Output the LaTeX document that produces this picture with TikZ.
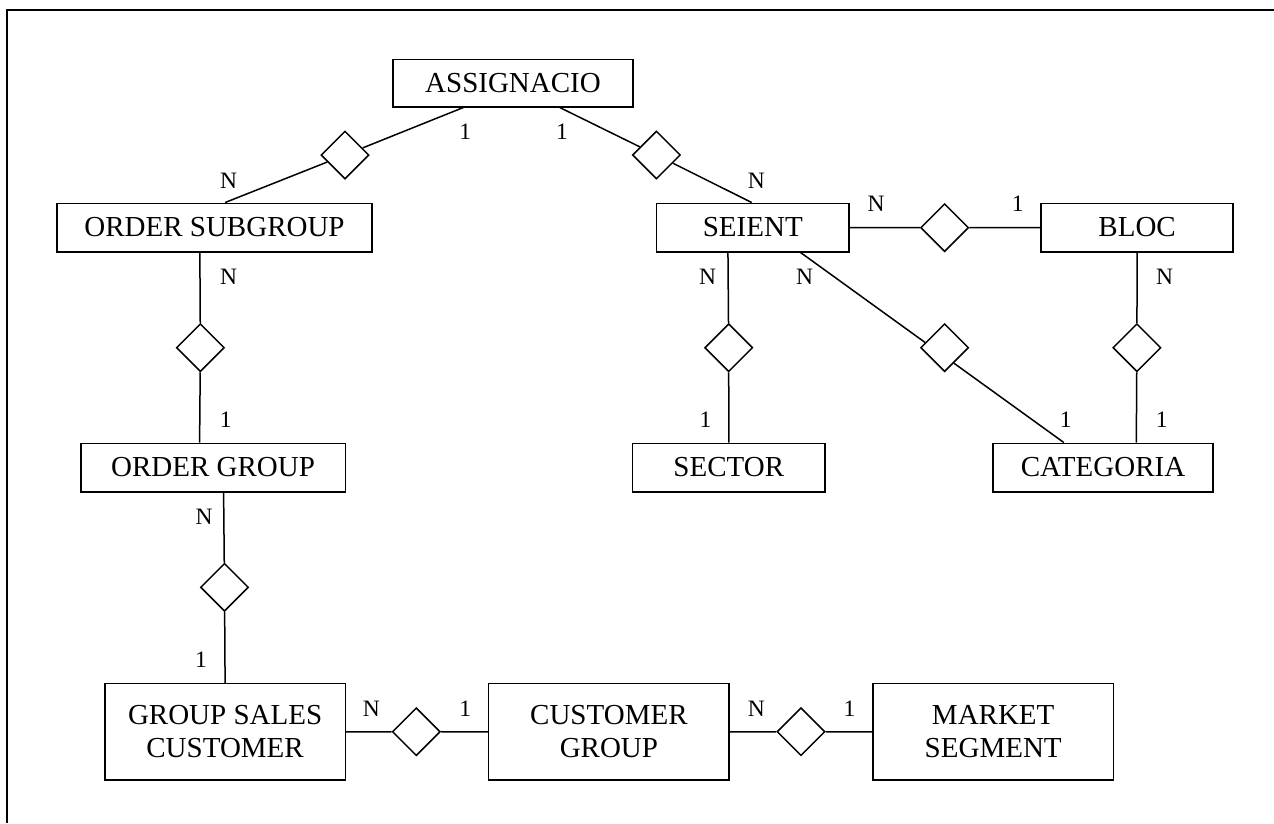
\documentclass[tikz,border=0pt]{standalone}
\usepackage{fontspec}
\setmainfont{Liberation Serif}
\usetikzlibrary{shapes.geometric}

\tikzset{
  entity/.style={draw, line width=1.6pt, rectangle, inner sep=0pt, align=center,
                 font=\fontsize{29}{33.3}\selectfont},
  rel/.style={draw, line width=1.5pt, diamond, fill=white, inner sep=0pt,
              minimum width=48pt, minimum height=48pt},
  card/.style={inner sep=0pt, font=\fontsize{23.5}{26}\selectfont},
  link/.style={line width=1.5pt},
  frameline/.style={line width=1.7pt}
}

\begin{document}
\begin{tikzpicture}[x=1pt,y=-1pt]
\useasboundingbox (0,0) rectangle (1274,823);

% outer frame (top and left edges)
\coordinate (ftop) at (1274,10);
\coordinate (fcorner) at (7.3,10);
\coordinate (fbottom) at (7.3,823);
\draw[frameline] (ftop) -- (fcorner) -- (fbottom);

% entities
\node[entity, minimum width=240.3pt, minimum height=47.4pt] (assig)  at (513,83)      {ASSIGNACIO};
\node[entity, minimum width=315.5pt, minimum height=48.4pt] (osub)   at (214.5,227.5) {ORDER SUBGROUP};
\node[entity, minimum width=192.7pt, minimum height=48.4pt] (seient) at (752.8,227.5) {SEIENT};
\node[entity, minimum width=192.2pt, minimum height=48.4pt] (bloc)   at (1137.1,227.5){BLOC};
\node[entity, minimum width=264.6pt, minimum height=48.4pt] (ogroup) at (213,467.5)   {ORDER GROUP};
\node[entity, minimum width=192.3pt, minimum height=48.4pt] (sector) at (728.8,467.5) {SECTOR};
\node[entity, minimum width=219.6pt, minimum height=48.4pt] (categ)  at (1103,467.5)  {CATEGORIA};
\node[entity, minimum width=240.4pt, minimum height=96.3pt] (gsc)    at (225.1,731.8) {GROUP SALES\\CUSTOMER};
\node[entity, minimum width=240.5pt, minimum height=96.3pt] (cgroup) at (608.9,731.8) {CUSTOMER\\GROUP};
\node[entity, minimum width=240.8pt, minimum height=96.3pt] (mseg)   at (993.2,731.8) {MARKET\\SEGMENT};

% relationships
\node[rel] (r1)  at (345,155)     {};
\node[rel] (r2)  at (656.4,155)   {};
\node[rel] (r3)  at (944.6,227.7) {};
\node[rel] (r4)  at (200.4,347.7) {};
\node[rel] (r5)  at (728.7,347.7) {};
\node[rel] (r6)  at (944.6,347.7) {};
\node[rel] (r7)  at (1136.9,347.7){};
\node[rel] (r8)  at (224.5,587.3) {};
\node[rel] (r9)  at (416.3,731.7) {};
\node[rel] (r10) at (801,731.7)   {};

% connectors
\draw[link] ([xshift=71.3pt]assig.south west) -- (r1) -- ([xshift=169.2pt]osub.north west);
\draw[link] ([xshift=167.7pt]assig.south west) -- (r2) -- ([xshift=96pt]seient.north west);
\draw[link] (seient.east) -- (r3) -- (bloc.west);
\draw[link] ([xshift=143.9pt]osub.south west) -- (r4) -- ([xshift=119.7pt]ogroup.north west);
\draw[link] ([xshift=72.3pt]seient.south west) -- (r5) -- (sector.north);
\draw[link] ([xshift=144.9pt]seient.south west) -- (r6.165);
\draw[link] (r6.-59.5) -- ([xshift=71.4pt]categ.north west);
\draw[link] (bloc.south) -- (r7) -- ([xshift=143.9pt]categ.north west);
\draw[link] ([xshift=143.7pt]ogroup.south west) -- (r8) -- (gsc.north);
\draw[link] (gsc.east) -- (r9) -- (cgroup.west);
\draw[link] (cgroup.east) -- (r10) -- (mseg.west);

% cardinalities
\node[card] (c1)  at (465.3,131.3) {1};
\node[card] (c2)  at (228.6,180.5) {N};
\node[card] (c3)  at (562,131.3)   {1};
\node[card] (c4)  at (756.4,180.5) {N};
\node[card] (c5)  at (876,204.2)   {N};
\node[card] (c6)  at (1017.7,204.2){1};
\node[card] (c7)  at (228.6,276.7) {N};
\node[card] (c8)  at (707.5,276.7) {N};
\node[card] (c9)  at (804.6,276.7) {N};
\node[card] (c10) at (1164.6,276.7){N};
\node[card] (c11) at (225.7,420)   {1};
\node[card] (c12) at (705.4,420)   {1};
\node[card] (c13) at (1065.8,420)  {1};
\node[card] (c14) at (1161.8,420)  {1};
\node[card] (c15) at (204,516.7)   {N};
\node[card] (c16) at (201,660)     {1};
\node[card] (c17) at (371.4,708.3) {N};
\node[card] (c18) at (465.3,708.3) {1};
\node[card] (c19) at (756.4,708.3) {N};
\node[card] (c20) at (849.5,708.3) {1};
\end{tikzpicture}
\end{document}
